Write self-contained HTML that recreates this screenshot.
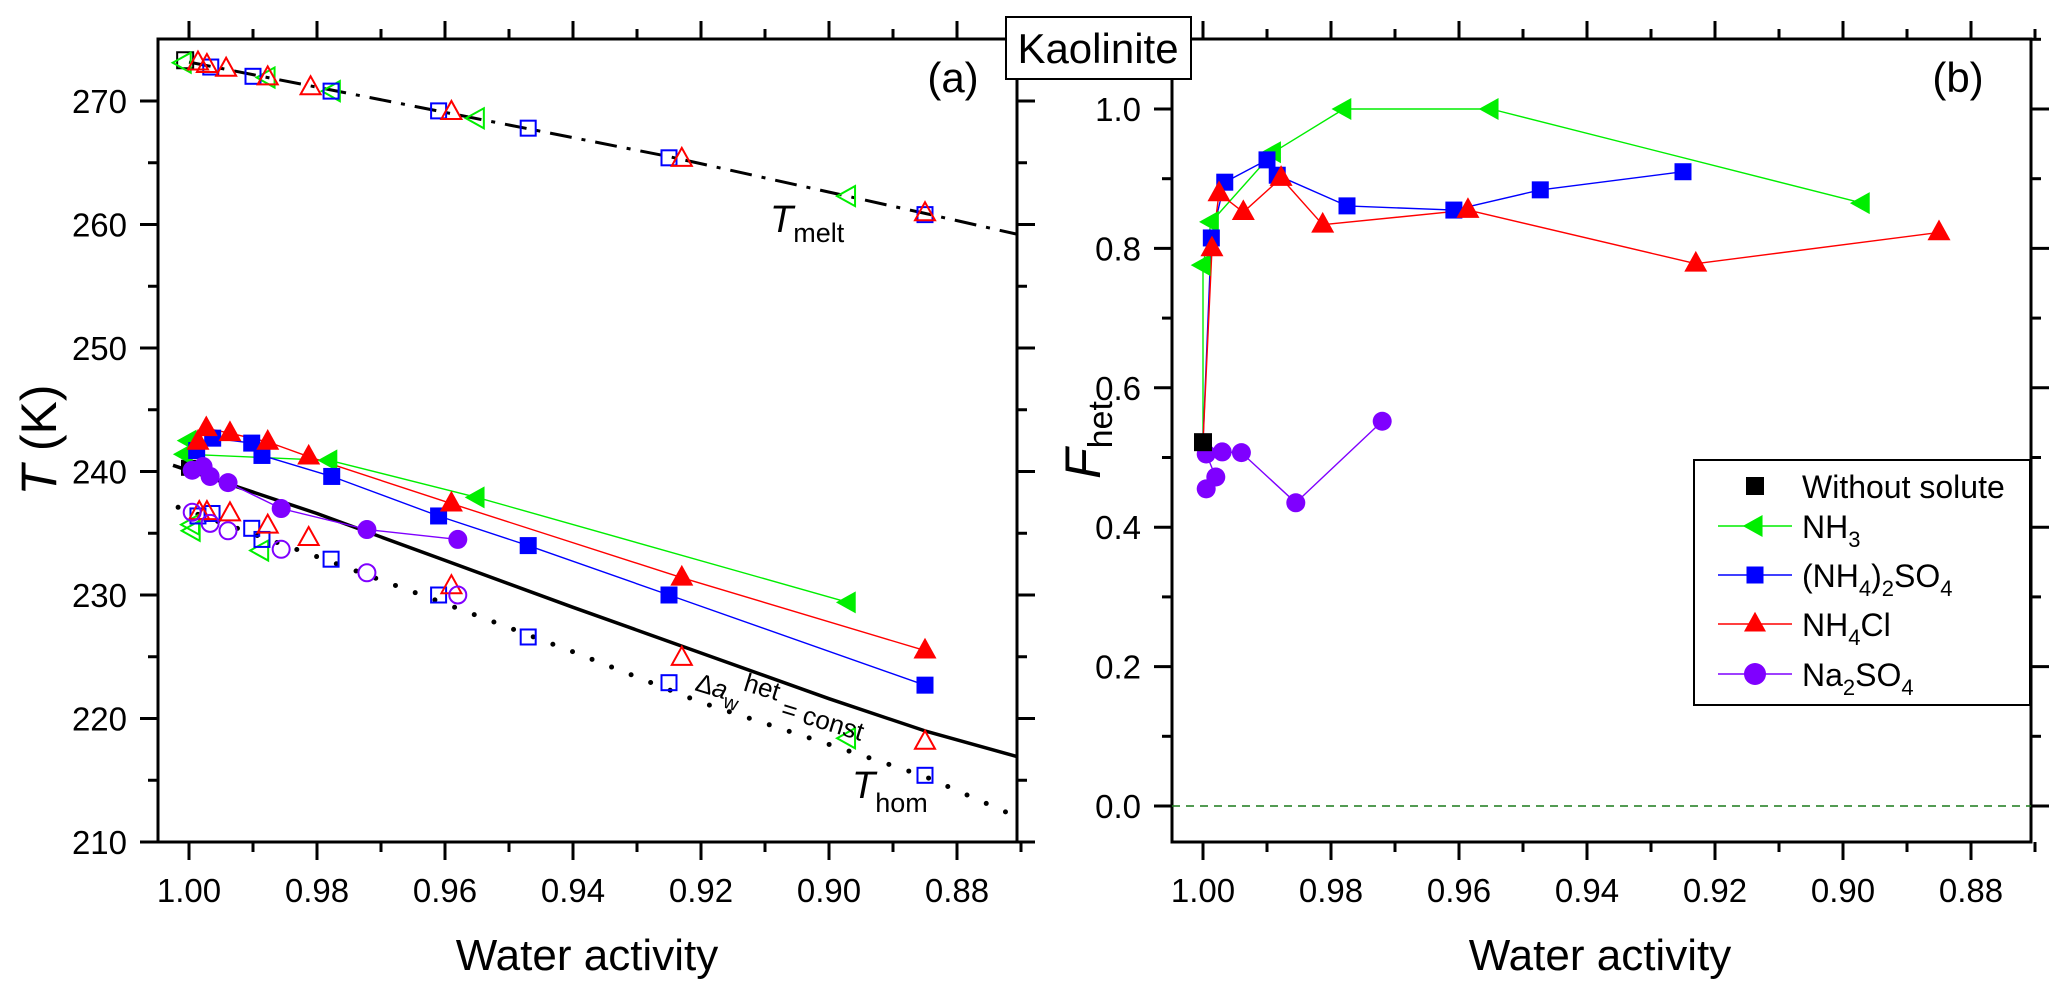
<!DOCTYPE html>
<html><head><meta charset="utf-8"><style>
html,body{margin:0;padding:0;background:#fff;}
svg{display:block;font-family:"Liberation Sans",Arial,sans-serif;}
</style></head><body>
<svg id="chart" width="2067" height="996" viewBox="0 0 2067 996" xmlns="http://www.w3.org/2000/svg">
<rect x="0" y="0" width="2067" height="996" fill="#fff"/>
<g id="pa"></g>
<g id="pb"></g>
<g id="ann">
 <text transform="translate(56,440) rotate(-90)" text-anchor="middle" font-size="50"><tspan font-style="italic">T</tspan> (K)</text>
 <text x="587" y="970" text-anchor="middle" font-size="44">Water activity</text>
 <text x="1600" y="970" text-anchor="middle" font-size="44">Water activity</text>
 <text transform="translate(1100,440) rotate(-90)" text-anchor="middle" font-size="50"><tspan font-style="italic">F</tspan><tspan font-size="34" dy="12">het</tspan></text>
 <text x="953" y="92" text-anchor="middle" font-size="42">(a)</text>
 <text x="1958" y="92" text-anchor="middle" font-size="42">(b)</text>
 <rect x="1006" y="17" width="185" height="62" fill="#fff" stroke="#000" stroke-width="2"/>
 <text x="1098" y="63" text-anchor="middle" font-size="42">Kaolinite</text>
 <text x="770" y="232" font-size="38"><tspan font-style="italic">T</tspan><tspan font-size="27" dy="10">melt</tspan></text>
 <text x="852" y="798" font-size="38"><tspan font-style="italic">T</tspan><tspan font-size="27" dy="14">hom</tspan></text>
 <text transform="translate(694,690) rotate(17)" font-size="26">Δ<tspan font-style="italic">a</tspan><tspan font-size="20" dy="8">w</tspan><tspan font-size="26" dy="-22">het</tspan><tspan dy="14"> = const</tspan></text>
</g>
<g id="legend"></g>
</svg>
<script>
// ---------- Panel (a) data ----------
const meltCurveAw = [1.0, 0.967, 0.925, 0.885, 0.8705];
const meltCurveT  = [273.15, 269.8, 265.5, 260.9, 259.2];
const homCurveAw  = [1.0017, 0.98, 0.96, 0.94, 0.92, 0.90, 0.885, 0.8705];
const homCurveT   = [237.1, 233.1, 229.3, 225.4, 221.3, 217.9, 215.3, 212.0];
const hetCurveAw  = [1.0025, 0.98, 0.96, 0.94, 0.92, 0.90, 0.885, 0.8705];
const hetCurveT   = [240.5, 236.6, 232.8, 229.0, 225.3, 221.6, 219.0, 216.9];

const nh3HetAw = [1.0, 1.0006, 0.978, 0.955, 0.897];
const nh3HetT  = [242.5, 241.4, 240.9, 237.9, 229.4];
const nh3MeltAw = [1.0008, 0.9877, 0.9775, 0.955, 0.897];
const nh3MeltT  = [273.1, 271.9, 270.8, 268.6, 262.3];
const nh3HomAw = [0.9995, 0.9994, 0.9887, 0.897];
const nh3HomT  = [235.7, 235.2, 233.6, 218.4];

const amsHetAw = [0.9988, 0.9963, 0.9902, 0.9886, 0.9777, 0.961, 0.947, 0.925, 0.885];
const amsHetT  = [241.7, 242.7, 242.3, 241.3, 239.6, 236.4, 234.0, 230.0, 222.7];
const amsMeltAw = [0.9966, 0.990, 0.9778, 0.961, 0.947, 0.925, 0.885];
const amsMeltT  = [272.75, 272.0, 270.8, 269.2, 267.8, 265.4, 260.8];
const amsHomAw = [0.9986, 0.9964, 0.9902, 0.9886, 0.9778, 0.961, 0.947, 0.925, 0.885];
const amsHomT  = [236.4, 236.6, 235.4, 234.5, 232.9, 230.0, 226.6, 222.9, 215.4];

const nh4clHetAw = [0.9986, 0.9973, 0.9936, 0.9877, 0.9813, 0.959, 0.923, 0.885];
const nh4clHetT  = [242.4, 243.5, 243.1, 242.4, 241.2, 237.4, 231.4, 225.5];
const nh4clMeltAw = [0.9986, 0.9972, 0.9942, 0.9877, 0.981, 0.959, 0.923, 0.885];
const nh4clMeltT  = [273.1, 272.9, 272.6, 271.9, 271.1, 269.1, 265.3, 260.9];
const nh4clHomAw = [0.9984, 0.9972, 0.9936, 0.9877, 0.9813, 0.959, 0.923, 0.885];
const nh4clHomT  = [236.7, 236.7, 236.6, 235.6, 234.6, 230.7, 224.9, 218.1];

const naHetAw = [0.9995, 0.9978, 0.9967, 0.9939, 0.9856, 0.9722, 0.958];
const naHetT  = [240.1, 240.4, 239.6, 239.1, 237.0, 235.3, 234.5];
const naHomAw = [0.9995, 0.9967, 0.9939, 0.9856, 0.9722, 0.958];
const naHomT  = [236.7, 235.8, 235.2, 233.7, 231.8, 230.0];

const pureAw = [1.0006, 1.0];
const pureT  = [273.3, 240.3];

const yTicksA = [210, 220, 230, 240, 250, 260, 270];
const xTicks  = [1.00, 0.98, 0.96, 0.94, 0.92, 0.90, 0.88];
const xTickLabels = ["1.00", "0.98", "0.96", "0.94", "0.92", "0.90", "0.88"];

// ---------- Panel (b) data ----------
const pureFAw = [1.0];
const pureF   = [0.522];
const nh3FAw = [1.0, 1.0, 0.9987, 0.989, 0.978, 0.955, 0.897];
const nh3F   = [0.522, 0.776, 0.838, 0.938, 1.0, 1.0, 0.865];
const amsFAw = [1.0, 0.9987, 0.9966, 0.990, 0.9884, 0.9775, 0.9608, 0.9473, 0.925];
const amsF   = [0.522, 0.815, 0.895, 0.927, 0.905, 0.861, 0.855, 0.884, 0.91];
const nh4clFAw = [1.0, 0.9986, 0.9975, 0.9937, 0.9878, 0.9813, 0.9586, 0.923, 0.885];
const nh4clF   = [0.522, 0.80, 0.879, 0.852, 0.901, 0.834, 0.855, 0.778, 0.823];
const naFAw = [0.9995, 0.998, 0.9995, 0.997, 0.994, 0.9855, 0.972];
const naF   = [0.455, 0.472, 0.505, 0.508, 0.507, 0.435, 0.552];
const yTicksB = [0.0, 0.2, 0.4, 0.6, 0.8, 1.0];
const yTickLabelsB = ["0.0", "0.2", "0.4", "0.6", "0.8", "1.0"];
const legendLabels = ["Without solute", "NH3", "(NH4)2SO4", "NH4Cl", "Na2SO4"];

const GREEN = "#00ee00", BLUE = "#0000ff", RED = "#ff0000", PURPLE = "#7f00ff";
const NS = "http://www.w3.org/2000/svg";

const A = {l:158, r:1017, t:39, b:842};
const B = {l:1172, r:2031, t:39, b:842};
function xa(aw){ return 189 + (1 - aw) * 6400; }
function ya(T){ return 101 + (270 - T) * 12.35; }
function xb(aw){ return 1203 + (1 - aw) * 6400; }
function yb(f){ return 806 - f * 697; }

function mk(tag, attrs, parent){
  const e = document.createElementNS(NS, tag);
  for (const k in attrs) e.setAttribute(k, attrs[k]);
  parent.appendChild(e);
  return e;
}
const pa = document.getElementById('pa');
const pb = document.getElementById('pb');

function marker(parent, type, cx, cy, color, filled, s, name){
  let e;
  const fill = filled ? color : "none";
  const sw = filled ? 0 : 2;
  if (type === 'sq'){
    e = mk('rect', {x:cx-s/2, y:cy-s/2, width:s, height:s, fill:fill, stroke:color, 'stroke-width':sw}, parent);
  } else if (type === 'tri'){
    const h = s*0.9;
    e = mk('polygon', {points:`${cx},${cy-h*0.62} ${cx-s/2},${cy+h*0.38} ${cx+s/2},${cy+h*0.38}`, fill:fill, stroke:color, 'stroke-width':sw}, parent);
  } else if (type === 'ltri'){
    const h = s*0.9;
    e = mk('polygon', {points:`${cx-h*0.62},${cy} ${cx+h*0.38},${cy-s/2} ${cx+h*0.38},${cy+s/2}`, fill:fill, stroke:color, 'stroke-width':sw}, parent);
  } else {
    e = mk('circle', {cx:cx, cy:cy, r:s/2, fill:fill, stroke:color, 'stroke-width':sw}, parent);
  }
  
  
  return e;
}
function polyline(parent, xs, ys, fx, fy, color, w, dash, name, cap){
  const pts = xs.map((v,i)=> fx(v).toFixed(1)+","+fy(ys[i]).toFixed(1)).join(" ");
  const e = mk('polyline', {points:pts, fill:'none', stroke:color, 'stroke-width':w, 'stroke-linejoin':'round'}, parent);
  if (dash) e.setAttribute('stroke-dasharray', dash);
  if (cap) e.setAttribute('stroke-linecap', cap);
  
  
  return e;
}
function axesFrame(parent, R, name){
  const f = mk('rect', {x:R.l, y:R.t, width:R.r-R.l, height:R.b-R.t, fill:'none', stroke:'#000', 'stroke-width':3}, parent);
  
  
}
function xAxis(parent, fx, R, name){
  for (let v = 1.00; v >= 0.8699; v -= 0.01){
    const x = fx(v);
    const major = Math.round(v*100) % 2 === 0;
    const L = major ? 18 : 10;
    mk('line', {x1:x, y1:R.b, x2:x, y2:R.b+L, stroke:'#000', 'stroke-width':3}, parent);
    mk('line', {x1:x, y1:R.t, x2:x, y2:R.t-L, stroke:'#000', 'stroke-width':3}, parent);
  }
  xTicks.forEach((v,i)=>{
    const t = mk('text', {x:fx(v), y:902, 'text-anchor':'middle', 'font-size':33}, parent);
    t.textContent = xTickLabels[i];
    
    
  });
}
// ---------- draw panel a ----------
axesFrame(pa, A, 'plot-frame-a');
xAxis(pa, xa, A, 'x-axis-a');
for (let T = 210; T <= 274; T += 5){
  const y = ya(T); const major = T % 10 === 0; const L = major ? 18 : 10;
  mk('line', {x1:A.l, y1:y, x2:A.l-L, y2:y, stroke:'#000', 'stroke-width':3}, pa);
  mk('line', {x1:A.r, y1:y, x2:A.r+L, y2:y, stroke:'#000', 'stroke-width':3}, pa);
}
yTicksA.forEach(T=>{
  const t = mk('text', {x:127, y:ya(T)+12, 'text-anchor':'end', 'font-size':33}, pa);
  t.textContent = String(T);
  
  
});
polyline(pa, meltCurveAw, meltCurveT, xa, ya, '#000', 3, '22 10 4 10', 'tmelt-curve');
polyline(pa, homCurveAw, homCurveT, xa, ya, '#000', 5, '0 21', 'thom-curve', 'round');
polyline(pa, hetCurveAw, hetCurveT, xa, ya, '#000', 3.5, null, 'delta-aw-het-curve');

polyline(pa, nh3HetAw.slice(1), nh3HetT.slice(1), xa, ya, GREEN, 1.4, null, 'nh3-het-line');
polyline(pa, amsHetAw, amsHetT, xa, ya, BLUE, 1.4, null, 'ams-het-line');
polyline(pa, nh4clHetAw, nh4clHetT, xa, ya, RED, 1.4, null, 'nh4cl-het-line');
polyline(pa, naHetAw, naHetT, xa, ya, PURPLE, 1.4, null, 'na2so4-het-line');

marker(pa, 'sq', xa(pureAw[0]), ya(pureT[0]), '#000', false, 16, 'pure-melt-point');
marker(pa, 'sq', xa(pureAw[1]), ya(pureT[1]), '#000', true, 16, 'pure-het-point');
nh3MeltAw.forEach((a,i)=>marker(pa,'ltri',xa(a),ya(nh3MeltT[i]),GREEN,false,20,'nh3-melt-point'));
nh3HomAw.forEach((a,i)=>marker(pa,'ltri',xa(a),ya(nh3HomT[i]),GREEN,false,20,'nh3-hom-point'));
amsMeltAw.forEach((a,i)=>marker(pa,'sq',xa(a),ya(amsMeltT[i]),BLUE,false,15,'ams-melt-point'));
amsHomAw.forEach((a,i)=>marker(pa,'sq',xa(a),ya(amsHomT[i]),BLUE,false,15,'ams-hom-point'));
nh4clMeltAw.forEach((a,i)=>marker(pa,'tri',xa(a),ya(nh4clMeltT[i]),RED,false,20,'nh4cl-melt-point'));
nh4clHomAw.forEach((a,i)=>marker(pa,'tri',xa(a),ya(nh4clHomT[i]),RED,false,20,'nh4cl-hom-point'));
naHomAw.forEach((a,i)=>marker(pa,'circ',xa(a),ya(naHomT[i]),PURPLE,false,17,'na2so4-hom-point'));
nh3HetAw.forEach((a,i)=>marker(pa,'ltri',xa(a),ya(nh3HetT[i]),GREEN,true,22,'nh3-het-point'));
amsHetAw.forEach((a,i)=>marker(pa,'sq',xa(a),ya(amsHetT[i]),BLUE,true,17,'ams-het-point'));
nh4clHetAw.forEach((a,i)=>marker(pa,'tri',xa(a),ya(nh4clHetT[i]),RED,true,23,'nh4cl-het-point'));
naHetAw.forEach((a,i)=>marker(pa,'circ',xa(a),ya(naHetT[i]),PURPLE,true,19,'na2so4-het-point'));

// ---------- draw panel b ----------
axesFrame(pb, B, 'plot-frame-b');
xAxis(pb, xb, B, 'x-axis-b');
for (let k = 0; k <= 11; k++){
  const f = k/10; const y = yb(f); if (y < B.t) continue;
  const L = (k % 2 === 0) ? 18 : 10;
  mk('line', {x1:B.l, y1:y, x2:B.l-L, y2:y, stroke:'#000', 'stroke-width':3}, pb);
  mk('line', {x1:B.r, y1:y, x2:B.r+L, y2:y, stroke:'#000', 'stroke-width':3}, pb);
}
yTicksB.forEach((f,i)=>{
  const t = mk('text', {x:1141, y:yb(f)+12, 'text-anchor':'end', 'font-size':33}, pb);
  t.textContent = yTickLabelsB[i];
  
  
});
const zl = mk('line', {x1:B.l, y1:yb(0), x2:B.r, y2:yb(0), stroke:'#1a7a1a', 'stroke-width':1.6, 'stroke-dasharray':'8 6'}, pb);



polyline(pb, nh3FAw, nh3F, xb, yb, GREEN, 1.4, null, 'nh3-fhet-line');
polyline(pb, amsFAw, amsF, xb, yb, BLUE, 1.4, null, 'ams-fhet-line');
polyline(pb, nh4clFAw, nh4clF, xb, yb, RED, 1.4, null, 'nh4cl-fhet-line');
polyline(pb, naFAw, naF, xb, yb, PURPLE, 1.4, null, 'na2so4-fhet-line');
naFAw.forEach((a,i)=>marker(pb,'circ',xb(a),yb(naF[i]),PURPLE,true,19,'na2so4-fhet-point'));
marker(pb,'sq',xb(pureFAw[0]),yb(pureF[0]),'#000',true,18,'pure-fhet-point');
nh3FAw.forEach((a,i)=>{ if(i>0) marker(pb,'ltri',xb(a),yb(nh3F[i]),GREEN,true,22,'nh3-fhet-point'); });
amsFAw.forEach((a,i)=>{ if(i>0) marker(pb,'sq',xb(a),yb(amsF[i]),BLUE,true,17,'ams-fhet-point'); });
nh4clFAw.forEach((a,i)=>{ if(i>0) marker(pb,'tri',xb(a),yb(nh4clF[i]),RED,true,23,'nh4cl-fhet-point'); });

// ---------- legend ----------
const lg = document.getElementById('legend');
const lb = mk('rect', {x:1694, y:460, width:336, height:245, fill:'#fff', stroke:'#000', 'stroke-width':2}, lg);


const legY = [486, 526, 575, 624, 674];
const legC = ['#000', GREEN, BLUE, RED, PURPLE];
const legT = ['sq', 'ltri', 'sq', 'tri', 'circ'];
const legHTML = ['Without solute', 'NH<tspan font-size="22" dy="9">3</tspan>',
 '(NH<tspan font-size="22" dy="9">4</tspan><tspan dy="-9">)</tspan><tspan font-size="22" dy="9">2</tspan><tspan dy="-9">SO</tspan><tspan font-size="22" dy="9">4</tspan>',
 'NH<tspan font-size="22" dy="9">4</tspan><tspan dy="-9">Cl</tspan>',
 'Na<tspan font-size="22" dy="9">2</tspan><tspan dy="-9">SO</tspan><tspan font-size="22" dy="9">4</tspan>'];
legY.forEach((y,i)=>{
  const g = mk('g', {}, lg);
  
  
  if (i > 0) mk('line', {x1:1718, y1:y, x2:1792, y2:y, stroke:legC[i], 'stroke-width':1.4}, g);
  marker(g, legT[i], 1755, y, legC[i], true, i===0?18:(i===2?17:22), 'legend-marker');
  const t = mk('text', {x:1802, y:y+12, 'font-size':32}, g);
  t.innerHTML = legHTML[i];
  
  
});
</script>
</body></html>
